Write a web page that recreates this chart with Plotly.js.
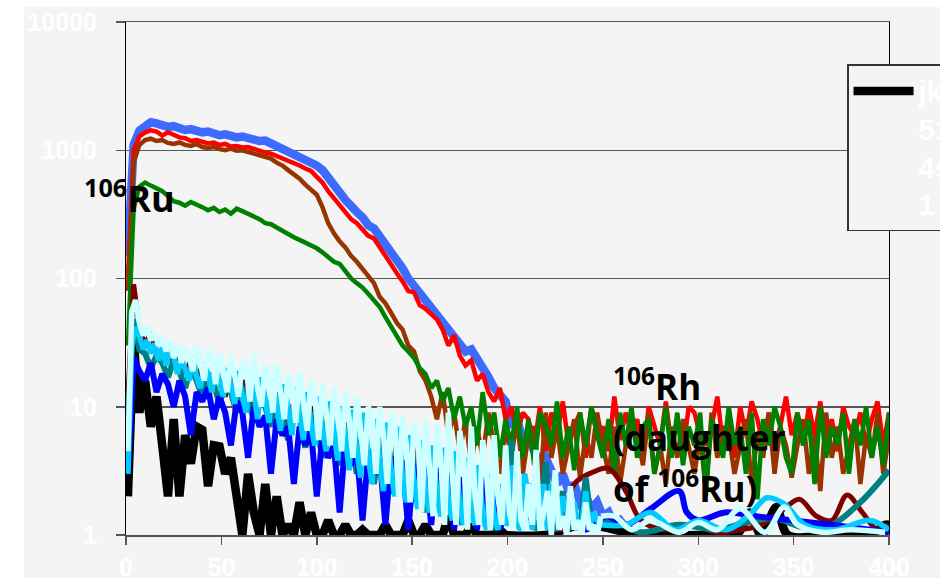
<!DOCTYPE html>
<html>
<head>
<meta charset="utf-8">
<script src="https://cdn.plot.ly/plotly-3.0.1.min.js"></script>
<style>
html,body{margin:0;padding:0;background:#ffffff;}
#chart{width:940px;height:578px;}
</style>
</head>
<body>
<div id="chart"></div>
<script>
// ---- channel grids (x values) ----
const channels = [1,4,7,10,13,16,19,22,25,28,31,34,37,40,43,46,49,52,55,58,61,64,67,70,73,76,79,82,85,88,91,94,97,100,103,106,109,112,115,118,121,124,127,130,133,136,139,142,145,148,151,154,157,160,163,166,169,172,175,178,181,184,187,190,193,196,199,202,205,208,211,214,217,220,223,226,229,232,235,238,241,244,247,250,253,256,259,262,265,268,271,274,277,280,283,286,289,292,295,298,301,304,307,310,313,316,319,322,325,328,331,334,337,340,343,346,349,352,355,358,361,364,367,370,373,376,379,382,385,388,391,394,397,400];
const oddChannels = [1,3,5,7,9,11,13,15,17,19,21,23,25,27,29,31,33,35,37,39,41,43,45,47,49,51,53,55,57,59,61,63,65,67,69,71,73,75,77,79,81,83,85,87,89,91,93,95,97,99,101,103,105,107,109,111,113,115,117,119,121,123,125,127,129,131,133,135,137,139,141,143,145,147,149,151,153,155,157,159,161,163,165,167,169,171,173,175,177,179,181,183,185,187,189,191,193,195,197,199,201,203,205,207,209,211,213,215,217,219,221,223,225,227,229,231,233,235,237,239,241,243,245,247,249];

// ---- axis ticks ----
const xTickVals = [0,50,100,150,200,250,300,350,400];
const xTickText = ['0','50','100','150','200','250','300','350','400'];
const yTickVals = [1,10,100,1000,10000];
const yTickText = ['1','10','100','1000','10000'];

// ---- high-count series (106Ru spectra), one value per channel ----
const seriesRoyal = [150,1100,1420,1560,1650,1620,1560,1520,1540,1470,
 1440,1460,1400,1380,1400,1340,1310,1330,1290,1260,
 1280,1240,1230,1180,1190,1130,1090,1040,980,950,
 890,850,820,760,700,600,520,470,410,360,
 330,300,260,245,215,185,160,140,120,100,
 88,76,66,58,52,46,41,35,31,27,
 28,24,21,17,14,12,11,
 7,8,5.5,6,4.5,3.5,4,3,2.5,3,2.2,2.5,1.8,2,1.6,1.8,1.4,1.5,1.2,1.3,1.1,1.0];

const seriesRed = [100,1000,1280,1380,1430,1400,1300,1380,1320,1260,
 1240,1180,1200,1160,1130,1150,1100,1120,1070,1080,
 1050,1060,1020,990,960,940,900,880,840,790,
 760,720,690,620,560,480,420,370,330,290,
 270,240,215,205,175,150,125,110,95,80,
 78,62,58,52,48,40,30,36,25,21,
 23,16,18,13,11,14,8,
 10,6,9,8,5,10,4.5,9,6,11,
 5,7,9,4,10,6,7,4.5,12,5.5,
 9,6,8,4,10,7,5,11,5,8,
 4.5,10,9,6,5,7,12,5,8,4,
 10,6,11,8,5,9,4.5,7,12,6,
 9,5,10,6,11,5,8,4.5,10,7,
 6,9,5,8,11,5,9];

const seriesBrown = [80,800,1100,1200,1230,1180,1200,1140,1120,1150,
 1100,1080,1120,1060,1040,1060,1020,1000,1030,990,
 1000,970,960,930,890,860,800,760,700,650,
 600,540,490,450,360,270,225,195,175,150,
 135,120,105,92,72,64,54,45,40,30,
 27,19,16,12,8,13,6,9,4.5,8,
 3.5,7,4,9,5,3,7,
 4,8,3,6,7,2.5,9,4,7,3,
 5,8,2.8,6,4,9,5,3,7,2.5,
 5,8,6,3.5,9,3,5,2.5,7,4,
 8,5,3,6,2.2,9,4,7,6,3,
 5,8,2.5,6,4,9,3,7,5,2.8,
 5,8,3,6,2.2,9,4,7,3,5,
 8,2.5,6,4,9,3,6];

const seriesGreen = [30,350,520,560,530,500,480,440,400,390,
 370,395,380,360,340,355,330,345,320,350,
 335,320,310,290,270,265,250,235,220,210,
 200,190,182,172,160,145,135,130,115,100,
 92,85,76,68,60,50,42,36,30,27,
 24,20,18,14,16,11,14,8,12,7,
 10,5,13,6,9,4,8,
 5,10,4,8,3.5,9,7,5,11,4,
 7,3.2,9,5,10,6,4,8,3,9,
 5,10,4,7,8,3,5,10,4,9,
 3.5,7,5,9,2,8,6,4,10,5,
 7,3,9,1.9,8,5,10,7,4,3,
 9,5,8,2.5,10,4,7,5,9,3,
 8,5,10,4,7,3.5,9];

// ---- low-count series: values on a channel grid + sparse (smoothed) tail points ----
const blackY = [2,33,9,16,7,12,5,2,8,2,
 6,3.6,7,6.6,2.4,5,4.9,3,4,1.8,
 1,3,1.5,1,2.5,1,2,1,1.2,1,
 1.8,1,1.5,1,1,1.3,1,1,1.2,1,
 1,1.1,1,1,1,1.2,1,1,1,1.3,
 1,1,1.2,1,1,1,1.4,1,1,1,
 1.2,1,1,1,1,1.1,1];
const blackTailX = [220,240,270,300,320,327,333,341,347,370,390,398,400];
const blackTailY = [1,1.2,1,1,1,1.5,1,1.65,1,1,1,1.2,1.2];

const maroonY = [12,90,42,30,38,26,22,30,20,25,
 18,23,16,21,14,19,16,12,18,11,
 16,13,9.5,14,11,8,13,9,7,11,
 8,6,10,7,5,9,6,4.5,7.5,5,
 3.5,6.5,4.5,3,6,4,2.5,5.5,3.5,2,
 4.8,3,1.8,4.2,2.6,1.6,3.5,2.2,1.4,3,
 2,1.3,2.6,1.7,1.2,2.2,1.5];
const maroonTailX = [205,212,220,228,235,245,253,262,270,282,295,310,322,333,345,353,362,370,378,386,394,400];
const maroonTailY = [1.2,2.2,1.3,1.1,2.5,3.1,3.3,2.2,1.3,1.1,1.2,1.05,1.1,1.2,1.6,1.9,1.4,1.3,2.05,1.5,1.1,1.2];

const tealY = [8,48,28,26,20,25,22,17,23,19,
 14,20,16,12,18,15,10.5,16,13,9,
 14,11,8,13,10,7,12,8.5,5.5,10,
 8,4.8,9,7,4,8,6,3.5,7,5.5,
 3,6,4.5,2.5,5.5,4,2.1,4.8,3.5,1.8,
 4.2,3,1.5,3.6,2.6,1.4,3.2,2.2,1.2,2.8,
 2,1.3,2.4,1.6,1.1,2,1.2,
 5.5,1.2,1.5,2.5,1.1,1.3,3.7,1.2,1.1,2.2,1.1,1.4,1.1,2.8,1.2,1.1,1.3];
const tealTailX = [260,270,290,310,325,340,355,370,385,395,400];
const tealTailY = [1.2,1.05,1.2,1.1,1.25,1.35,1.15,1.2,1.8,2.6,3.2];

const blueY = [3,24,19,16,22,13,18,15,10,16,
 12,6,13,11,14,8,12,9,5,11,
 9,4,10,7,8.5,3,8,6,7,2.5,
 7,5,6.5,2,6,4,5,1.5,5.5,3.5,
 4.5,1.3,4.2,3,4,1.2,4,3.5,3.8,1.1,
 3.6,2,3.4,1.2,3.2,3.1,2.8,1.1,2.8,2,
 2.6,1.1,3,1.5,2,1.1,1.6];
const blueTailX = [206,215,228,240,252,262,275,290,294,300,314,330,350,370,390,400];
const blueTailY = [1.3,1.5,1.65,1.1,1.4,1.2,1.6,2.2,1.5,1.3,1.5,1.4,1.3,1.2,1.1,1.05];

// sky and light cyan are read on the finer (odd-channel) grid
const skyY = [3,30,42,36,28,33,26,31,23,29,
 21,27,25,18,24,20,16,25,17,14,
 22,18,13,21,15,12,20,14,10.5,19,
 12,9,18,13,8,17,11,7.5,16,10,
 6.5,15,9,6,14,8,5.5,13,7,5,
 12,6.5,4.5,11,6,3.8,10,5,3.2,9.5,
 4.5,2.8,9,4,2.5,8,3.5,2.2,7.5,3,
 2,7,2.8,1.8,6,2.5,1.6,5.5,2.2,1.5,
 5,2,1.4,4.8,1.8,1.3,4.5,1.6,1.2,4,
 1.5,1.2,3.5,1.4,1.1,3,1.3,1.1,2.5,1.2,
 1.3,3.5,1.2,1.1,3,2,1.1,2.2,1.2,2.5,
 1.1,2.5,1.6,1.1,2,1.6,1.2,1.8,1.1,1.2,
 2.2,1.1,1.5,1.3,1.2];
const skyTailX = [262,275,288,300,315,328,336,345,356,372,390,400];
const skyTailY = [1.2,1.5,1.1,1.3,1.1,1.5,1.95,1.75,1.2,1.1,1.3,1.1];

const lightCyanY = [4.5,55,68,45,36,42,33,38,30,35,
 27,33,24,31,22,29,25,19,30,21,
 16,28,24,15,26,19,13,25,18,12,
 23,20,11,26,14,10,21,17,9,22,
 13,8,18,15,7.5,19,11,6.5,16,12,
 5.5,15,9,5,14,10,4.5,13,8,4,
 12,7,3.5,10,8.5,3,10,6,2.5,9,
 7,2,8.5,5,1.8,7.5,6,1.5,8,3.5,
 1.4,7.5,4,1.2,9,3,1.2,6.5,4,1.1,
 7,2,1.2,5.5,3,1.1,6,2,1.2,5,
 1.5,1.1,4.5,1.3,1.1,2.5,1.2,4.6,1.1,1.5,
 2.2,1,3.2,1.1,1.4,1,2.4,1.1,1.3,1,
 1.8,1.1,1.2,1,1.4];
const lightCyanTailX = [256,265,275,290,300,310,322,335,345,352,365,380,398];
const lightCyanTailY = [1.4,1.1,1.3,1.05,1.25,1.1,1.6,1.05,1.65,1.2,1.05,1.1,1.05];

// ---- build traces ----
function hi(y, color, width, name) {
  return {type:'scatter', mode:'lines', x: channels.slice(0, y.length), y: y, name: name,
    showlegend:false, hoverinfo:'skip', line:{color: color, width: width}};
}
function lo(grid, vals, tx, ty, color, width, name, legend) {
  const n = vals.length;
  const xs = grid.slice(0, n);
  const dense = {type:'scatter', mode:'lines', x: xs, y: vals, name: name,
    legendgroup: name, showlegend: !!legend, hoverinfo:'skip',
    line:{color: color, width: width}};
  const tail = {type:'scatter', mode:'lines', x: [xs[n-1]].concat(tx), y: [vals[n-1]].concat(ty),
    name: name, legendgroup: name, showlegend:false, hoverinfo:'skip',
    line:{color: color, width: width, shape:'spline', smoothing:1}};
  return [dense, tail];
}

const traces = [
  hi(seriesRoyal, '#3d6bff', 8.5, 'royal'),
  hi(seriesRed, '#ff0000', 4.5, 'red'),
  hi(seriesBrown, '#993300', 4.5, 'brown'),
  hi(seriesGreen, '#008000', 4.5, 'green')
].concat(
  lo(channels, blackY, blackTailX, blackTailY, '#000000', 8.5, 'jk<br>51<br>4s<br>1', true),
  lo(channels, maroonY, maroonTailX, maroonTailY, '#800000', 5, 'maroon'),
  lo(channels, tealY, tealTailX, tealTailY, '#008080', 6, 'teal'),
  lo(channels, blueY, blueTailX, blueTailY, '#0000ff', 6, 'blue'),
  lo(oddChannels, skyY, skyTailX, skyTailY, '#00ccff', 5.5, 'sky'),
  lo(oddChannels, lightCyanY, lightCyanTailX, lightCyanTailY, '#ccffff', 5.5, 'lightcyan')
);

const tickFont = {family:'Liberation Sans, Arial, sans-serif', size:25, color:'#ffffff', weight:'bold'};
const labelFont = {family:'Open Sans, sans-serif', size:35, color:'#000000', weight:'bold'};

const layout = {
  width: 940, height: 578,
  margin: {l:126, r:51, t:22, b:43, autoexpand:false},
  paper_bgcolor:'#ffffff',
  plot_bgcolor:'#f4f4f4',
  showlegend:true,
  legend:{x:0.945, xanchor:'left', y:0.918, yanchor:'top', bgcolor:'#f4f4f4',
    bordercolor:'#333333', borderwidth:1.5, valign:'top', itemwidth:60,
    font:{family:'Liberation Sans, Arial, sans-serif', size:29, color:'#ffffff', weight:'bold'}},
  xaxis:{range:[0,400], tickvals:xTickVals, ticktext:xTickText, ticks:'outside', ticklen:8,
    tickwidth:1.5, tickcolor:'#555555', showgrid:false, zeroline:false, showline:true,
    linecolor:'#555555', linewidth:1.5, mirror:true, tickfont:tickFont, ticklabelstandoff:1, fixedrange:true},
  yaxis:{type:'log', range:[0,4], tickvals:yTickVals, ticktext:yTickText, ticks:'outside', ticklen:9,
    tickwidth:1.5, tickcolor:'#555555', showgrid:true, gridcolor:'#555555', gridwidth:1.5,
    zeroline:false, showline:true, linecolor:'#000000', linewidth:1, mirror:true,
    tickfont:tickFont, ticklabelstandoff:14, fixedrange:true},
  shapes:[{type:'rect', xref:'paper', yref:'paper', x0:-0.1337, x1:1.12, y0:-0.2, y1:1.0292,
    fillcolor:'#f4f4f4', line:{width:0}, layer:'below'}],
  annotations:[
    {text:'<sup>106</sup>Ru', xref:'paper', yref:'paper', x:-0.0577, y:0.659, xanchor:'left', yanchor:'middle',
      showarrow:false, font:Object.assign({}, labelFont, {size:36})},
    {text:'<sup>106</sup>Rh', xref:'paper', yref:'paper', x:0.6356, y:0.2924, xanchor:'left', yanchor:'middle',
      showarrow:false, font:labelFont},
    {text:'(daughter', xref:'paper', yref:'paper', x:0.6356, y:0.191, xanchor:'left', yanchor:'middle',
      showarrow:false, font:labelFont},
    {text:'of <sup>106</sup>Ru)', xref:'paper', yref:'paper', x:0.6356, y:0.0936, xanchor:'left', yanchor:'middle',
      showarrow:false, font:labelFont}
  ]
};

Plotly.newPlot('chart', traces, layout, {displayModeBar:false, staticPlot:true});
</script>
</body>
</html>
